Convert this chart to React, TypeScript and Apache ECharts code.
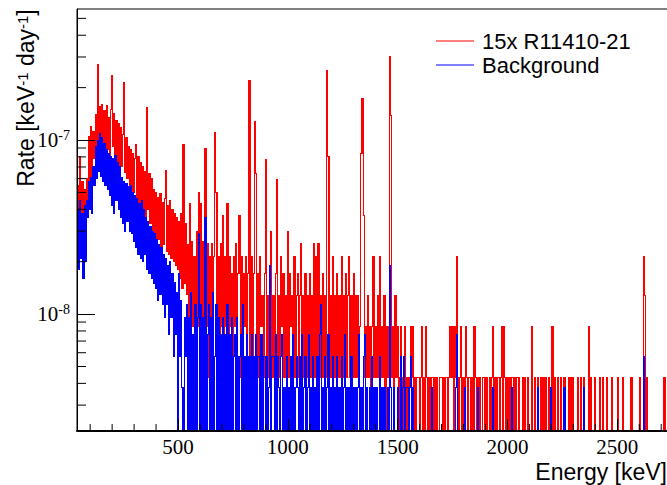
import { useEffect, useRef } from "react";
import * as echarts from "echarts";

// Rates in units of 1e-9 keV^-1 day^-1, 5 keV bins; each segment holds consecutive bins
const BIN_KEV = 5;
const SEG_START = [40, 540, 1040, 1540, 2040, 2540];

const red1 = [
  55, 32, 80, 35, 58, 30, 52, 38, 60, 45,
  105, 50, 119, 62, 112, 78, 140, 85, 270, 90,
  155, 82, 160, 95, 148, 80, 158, 88, 135, 76,
  150, 236, 92, 142, 80, 130, 72, 125, 66, 118,
  70, 108, 215, 65, 104, 60, 92, 52, 88, 48,
  84, 50, 78, 94, 46, 80, 42, 74, 38, 70,
  36, 66, 34, 153, 40, 64, 33, 60, 30, 52,
  28, 50, 26, 47, 27, 49, 24, 44, 25, 46,
  67, 23, 42, 22, 45, 21, 40, 20, 38, 19,
  36, 18, 34, 16, 38, 14, 94, 15, 33, 13,
];
const red2 = [
  25, 8.5, 43, 4.3, 26, 8.5, 21.3, 4.3, 30, 8.5,
  50, 4.3, 43, 8.5, 26, 4.3, 90, 8.5, 25.6, 4.3,
  21.3, 8.5, 25.6, 4.3, 21.3, 111, 50, 8.5, 21.3, 4.3,
  25.6, 8.5, 37, 4.3, 21.3, 8.5, 43, 4.3, 21.3, 8.5,
  17, 4.3, 21.3, 8.5, 25.6, 4.3, 17, 37, 4.3, 21.3,
  4.3, 17, 8.5, 21.3, 4.3, 17, 221, 4.3, 21.3, 4.3,
  17, 127, 64, 4.3, 17, 4.3, 21.3, 8.5, 12.8, 4.3,
  17, 77, 4.3, 12.8, 4.3, 17, 30, 4.3, 12.8, 4.3,
  17, 59, 4.3, 12.8, 4.3, 21.3, 8.5, 17, 4.3, 12.8,
  4.3, 30, 4.3, 17, 8.5, 12.8, 4.3, 21.3, 4.3, 12.8,
];
const red3 = [
  17, 4.3, 12.8, 25.6, 4.3, 12.8, 4.3, 17, 4.3, 12.8,
  4.3, 17, 4.3, 12.8, 4.3, 25.6, 4.3, 21.3, 4.3, 25.6,
  4.3, 12.8, 4.3, 17, 4.3, 12.8, 4.3, 252, 80, 4.3,
  12.8, 4.3, 21.3, 4.3, 12.8, 4.3, 17, 4.3, 12.8, 4.3,
  21.3, 4.3, 12.8, 4.3, 17, 4.3, 12.8, 21.3, 4.3, 12.8,
  4.3, 17, 4.3, 12.8, 4.3, 12.8, 4.3, 8.5, 84, 174,
  37, 4.3, 8.5, 4.3, 12.8, 4.3, 8.5, 0, 8.5, 21.3,
  4.3, 8.5, 4.3, 12.8, 4.3, 21.3, 4.3, 8.5, 4.3, 12.8,
  0, 8.5, 4.3, 8.5, 300, 139, 4.3, 8.5, 0, 12.8,
  4.3, 8.5, 0, 4.3, 8.5, 4.3, 0, 4.3, 8.5, 0,
];
const red4 = [
  4.3, 0, 4.3, 8.5, 4.3, 8.5, 0, 4.3, 0, 4.3,
  4.3, 0, 4.3, 8.5, 0, 4.3, 0, 8.5, 4.3, 0,
  4.3, 0, 4.3, 4.3, 0, 4.3, 0, 4.3, 0, 0,
  4.3, 4.3, 0, 4.3, 0, 4.3, 4.3, 0, 4.3, 8.5,
  4.3, 8.5, 0, 8.5, 4.3, 21.3, 4.3, 0, 4.3, 8.5,
  0, 4.3, 0, 8.5, 4.3, 0, 4.3, 4.3, 0, 4.3,
  0, 8.5, 4.3, 0, 4.3, 0, 4.3, 0, 0, 4.3,
  4.3, 0, 4.3, 0, 0, 4.3, 0, 4.3, 8.5, 0,
  4.3, 0, 4.3, 4.3, 0, 4.3, 8.5, 0, 8.5, 4.3,
  0, 4.3, 0, 4.3, 0, 4.3, 4.3, 0, 4.3, 0,
];
const red5 = [
  4.3, 4.3, 0, 0, 0, 4.3, 0, 4.3, 0, 0,
  4.3, 0, 0, 8.5, 0, 0, 4.3, 0, 0, 4.3,
  0, 0, 4.3, 0, 4.3, 0, 4.3, 0, 0, 4.3,
  0, 0, 8.5, 0, 4.3, 0, 0, 4.3, 0, 0,
  4.3, 0, 0, 4.3, 0, 0, 0, 4.3, 0, 4.3,
  0, 4.3, 0, 0, 0, 4.3, 0, 0, 4.3, 0,
  0, 4.3, 0, 0, 0, 8.5, 0, 4.3, 0, 0,
  0, 4.3, 0, 0, 0, 4.3, 0, 0, 4.3, 0,
  0, 0, 4.3, 0, 0, 0, 4.3, 0, 0, 0,
  0, 0, 4.3, 0, 0, 0, 4.3, 0, 0, 0,
];
const red6 = [
  0, 0, 0, 0, 4.3, 0, 0, 0, 0, 0,
  0, 0, 4.3, 0, 0, 21.3, 12.8, 0, 4.3, 0,
  0, 0, 0, 0, 0, 0, 0, 0, 0, 0,
  0, 0, 0, 0, 4.3, 0,
];

const blue1 = [
  40, 18, 45, 21, 38, 16, 42, 20, 45, 36,
  58, 40, 61, 38, 70, 55, 92, 60, 100, 66,
  109, 62, 104, 58, 95, 55, 88, 52, 84, 48,
  80, 42, 78, 38, 82, 45, 74, 40, 70, 36,
  61, 33, 58, 30, 56, 34, 54, 30, 55, 29,
  50, 26, 48, 24, 46, 22, 43, 21, 45, 20,
  40, 22, 36, 18, 34, 17, 32, 16, 30, 15,
  29, 14, 27, 12, 25, 13, 24, 11.4, 22, 9.5,
  21, 11.4, 19, 7.6, 20, 9.5, 17, 5.7, 15.2, 7.6,
  13.3, 0, 17, 5.7, 12, 3.8, 0, 9.5, 5.7, 11.4,
];
const blue2 = [
  0, 9.5, 0, 13.3, 0, 7.6, 0, 11.4, 0, 9.5,
  29, 0, 11.4, 0, 9.5, 0, 36, 0, 7.6, 11.4,
  0, 9.5, 0, 13.3, 0, 5.7, 11.4, 0, 9.5, 0,
  7.6, 0, 9.5, 0, 7.6, 0, 11.4, 0, 7.6, 0,
  9.5, 0, 5.7, 7.6, 0, 9.5, 0, 5.7, 7.6, 0,
  11.4, 0, 5.7, 0, 7.6, 0, 5.7, 0, 7.6, 0,
  5.7, 0, 7.6, 0, 5.7, 5.7, 0, 7.6, 0, 5.7,
  5.7, 0, 5.7, 0, 3.8, 19, 0, 5.7, 5.7, 0,
  7.6, 0, 5.7, 3.8, 0, 5.7, 7.6, 0, 3.8, 0,
  5.7, 0, 3.8, 0, 5.7, 0, 7.6, 0, 3.8, 5.7,
];
const blue3 = [
  3.8, 0, 5.7, 0, 7.6, 0, 3.8, 5.7, 0, 3.8,
  7.6, 0, 3.8, 0, 5.7, 0, 3.8, 0, 5.7, 0,
  7.6, 11.4, 0, 3.8, 0, 5.7, 0, 3.8, 7.6, 0,
  3.8, 0, 5.7, 0, 3.8, 0, 5.7, 0, 3.8, 0,
  5.7, 0, 3.8, 7.6, 0, 3.8, 0, 3.8, 0, 5.7,
  0, 3.8, 0, 3.8, 0, 3.8, 7.6, 0, 3.8, 0,
  5.7, 7.6, 0, 3.8, 0, 0, 3.8, 0, 5.7, 0,
  3.8, 0, 3.8, 0, 0, 5.7, 0, 3.8, 0, 3.8,
  0, 0, 3.8, 0, 19, 3.8, 0, 0, 3.8, 0,
  0, 3.8, 0, 0, 5.7, 0, 3.8, 5.7, 0, 3.8,
];
const blue4 = [
  3.8, 0, 3.8, 5.7, 0, 3.8, 0, 0, 0, 0,
  0, 0, 0, 0, 0, 0, 0, 0, 0, 0,
  0, 0, 3.8, 0, 0, 0, 0, 0, 0, 0,
  0, 0, 0, 0, 0, 0, 0, 0, 0, 0,
  0, 0, 0, 0, 3.8, 7.6, 0, 0, 0, 0,
  0, 0, 3.8, 0, 0, 0, 0, 0, 0, 0,
  0, 0, 0, 0, 3.8, 0, 0, 0, 0, 0,
  0, 0, 0, 0, 0, 0, 0, 0, 3.8, 0,
  0, 0, 0, 0, 0, 0, 0, 0, 0, 0,
  0, 0, 0, 0, 0, 3.8, 0, 0, 0, 0,
];
const blue5 = [
  0, 0, 0, 0, 0, 0, 0, 0, 0, 0,
  0, 0, 0, 0, 0, 0, 0, 0, 0, 3.8,
  0, 0, 0, 0, 0, 0, 0, 0, 0, 0,
  0, 3.8, 0, 0, 0, 0, 0, 0, 0, 0,
  0, 0, 0, 3.8, 0, 0, 0, 0, 0, 0,
  0, 0, 0, 0, 0, 0, 0, 0, 0, 0,
  0, 3.8, 0, 0, 0, 0, 0, 0, 0, 0,
  0, 0, 0, 0, 0, 0, 0, 0, 0, 0,
  0, 0, 0, 0, 0, 0, 0, 0, 0, 0,
  0, 0, 0, 0, 0, 0, 0, 0, 0, 0,
];
const blue6 = [
  0, 0, 0, 0, 0, 0, 0, 0, 0, 0,
  0, 0, 0, 0, 0, 5.7, 0, 0, 0, 0,
  0, 0, 0, 0, 0, 0, 0, 0, 0, 0,
  0, 0, 0, 0, 0, 0,
];

const SERIES_NAMES = ["15x R11410-21", "Background"];
const SERIES_COLORS = ["#ff0000", "#0000ff"];
const X_MIN = 40;
const X_MAX = 2731;
const Y_MIN = 2.13e-9;
const Y_MAX = 5.66e-7;
const FLOOR = 1e-10; // empty bins fall below the axis

// Each bin item: [bin centre keV, rate, rate of previous bin]
function toBins(segs: number[][]): [number, number, number][] {
  const out: [number, number, number][] = [];
  let prev = FLOOR;
  segs.forEach((seg, s) => {
    seg.forEach((v, i) => {
      const e = SEG_START[s] + i * BIN_KEV + BIN_KEV / 2;
      const r = v > 0 ? v * 1e-9 : FLOOR;
      out.push([e, r, prev]);
      prev = r;
    });
  });
  return out;
}

function minorTicks(): [number, number, number][] {
  const t: [number, number, number][] = [];
  for (const d of [-9, -8, -7]) {
    for (let k = 2; k <= 9; k++) {
      const v = k * Math.pow(10, d);
      if (v > Y_MIN && v < Y_MAX) t.push([X_MIN, v, 0]);
    }
  }
  for (let v = 100; v < X_MAX; v += 100) {
    if (v % 500 !== 0) t.push([v, Y_MIN, 1]);
  }
  return t;
}

// Pixel-snapped column between a bin's value and its predecessor's (outline look, no AA seams)
function histRenderer(color: string) {
  return (_p: any, api: any) => {
    const e = api.value(0);
    const v = api.value(1);
    const vp = api.value(2);
    const a = api.coord([e - BIN_KEV / 2, Math.max(v, vp)]);
    const b = api.coord([e + BIN_KEV / 2, Math.min(v, vp)]);
    const x0 = Math.round(a[0]);
    const x1 = Math.max(x0 + 1, Math.round(b[0]));
    const y0 = Math.round(a[1] - 0.5);
    const y1 = Math.max(y0 + 1, Math.round(b[1] + 0.5));
    return {
      type: "rect",
      shape: { x: x0, y: y0, width: x1 - x0, height: y1 - y0 },
      style: { fill: color },
    };
  };
}

export default function App() {
  const ref = useRef<HTMLDivElement>(null);
  useEffect(() => {
    if (!ref.current) return;
    const chart = echarts.init(ref.current, undefined, { renderer: "svg" });
    const red = toBins([red1, red2, red3, red4, red5, red6]);
    const blue = toBins([blue1, blue2, blue3, blue4, blue5, blue6]);
    const serif = "Liberation Serif";
    const sans = "Liberation Sans";
    const histSeries = (k: number, data: [number, number, number][]) => ({
      name: SERIES_NAMES[k],
      type: "custom",
      data,
      encode: { x: 0, y: 1 },
      clip: true,
      silent: true,
      z: 2 + k,
      itemStyle: { color: SERIES_COLORS[k] },
      renderItem: histRenderer(SERIES_COLORS[k]),
    });
    chart.setOption({
      animation: false,
      backgroundColor: "#ffffff",
      grid: {
        left: 77,
        top: 9,
        right: -1,
        bottom: 54,
        show: true,
        borderColor: "#000",
        borderWidth: 1,
        backgroundColor: "transparent",
        containLabel: false,
        outerBoundsMode: "none",
      },
      legend: {
        show: true,
        orient: "vertical",
        left: 436,
        top: 30,
        padding: 0,
        itemGap: 2,
        itemWidth: 38,
        itemHeight: 1,
        icon: "rect",
        data: SERIES_NAMES.map((n, k) => ({ name: n, itemStyle: { color: SERIES_COLORS[k] } })),
        textStyle: { fontFamily: sans, fontSize: 22, color: "#000", lineHeight: 22, padding: [0, 0, 0, 3] },
      },
      xAxis: {
        type: "value",
        min: X_MIN,
        max: X_MAX,
        splitNumber: 5,
        z: 10,
        axisLine: { show: true, lineStyle: { color: "#000", width: 2 } },
        axisTick: { show: true, inside: true, length: 12, lineStyle: { color: "#000", width: 1 } },
        splitLine: { show: false },
        axisLabel: {
          show: true,
          showMinLabel: false,
          showMaxLabel: false,
          margin: 5,
          fontFamily: serif,
          fontSize: 21,
          color: "#000",
          formatter: (v: number) => String(v),
        },
      },
      yAxis: {
        type: "log",
        logBase: 10,
        min: Y_MIN,
        max: Y_MAX,
        z: 10,
        axisLine: { show: true, lineStyle: { color: "#000", width: 1 } },
        axisTick: { show: true, inside: true, length: 18, lineStyle: { color: "#000", width: 1 } },
        splitLine: { show: false },
        axisLabel: {
          show: true,
          showMinLabel: false,
          showMaxLabel: false,
          margin: 7,
          formatter: (v: number) => `{b|10}{s|${Math.round(Math.log10(v))}}`,
          rich: {
            b: { fontFamily: serif, fontSize: 21, color: "#000", lineHeight: 24 },
            s: { fontFamily: serif, fontSize: 14, color: "#000", lineHeight: 8, verticalAlign: "top" },
          },
        },
      },
      graphic: [
        {
          type: "text",
          x: 26,
          y: 98,
          rotation: Math.PI / 2,
          silent: true,
          style: {
            text: "Rate [keV{s|-1} day{s|-1}]",
            fontFamily: sans,
            fontSize: 23,
            fill: "#000",
            align: "center",
            verticalAlign: "middle",
            rich: {
              s: { fontFamily: sans, fontSize: 15, fill: "#000", lineHeight: 10, verticalAlign: "top" },
            },
          },
        },
        {
          type: "text",
          x: 667,
          y: 472,
          silent: true,
          style: {
            text: "Energy [keV]",
            fontFamily: sans,
            fontSize: 23,
            fill: "#000",
            align: "right",
            verticalAlign: "middle",
          },
        },
      ],
      series: [
        histSeries(0, red),
        histSeries(1, blue),
        {
          type: "custom",
          silent: true,
          z: 11,
          clip: false,
          encode: { x: 0, y: 1 },
          data: minorTicks(),
          renderItem: (_p: any, api: any) => {
            const pt = api.coord([api.value(0), api.value(1)]);
            const kind = api.value(2);
            const shape =
              kind === 0
                ? { x1: pt[0], y1: pt[1], x2: pt[0] + 9, y2: pt[1] }
                : { x1: pt[0], y1: pt[1], x2: pt[0], y2: pt[1] - 7 };
            return { type: "line", shape, style: { stroke: "#000", lineWidth: 1 } };
          },
        },
      ],
    });
    return () => chart.dispose();
  }, []);
  return (
    <div
      ref={ref}
      style={{ position: "absolute", left: 0, top: 0, width: 667, height: 485, background: "#fff" }}
    />
  );
}
